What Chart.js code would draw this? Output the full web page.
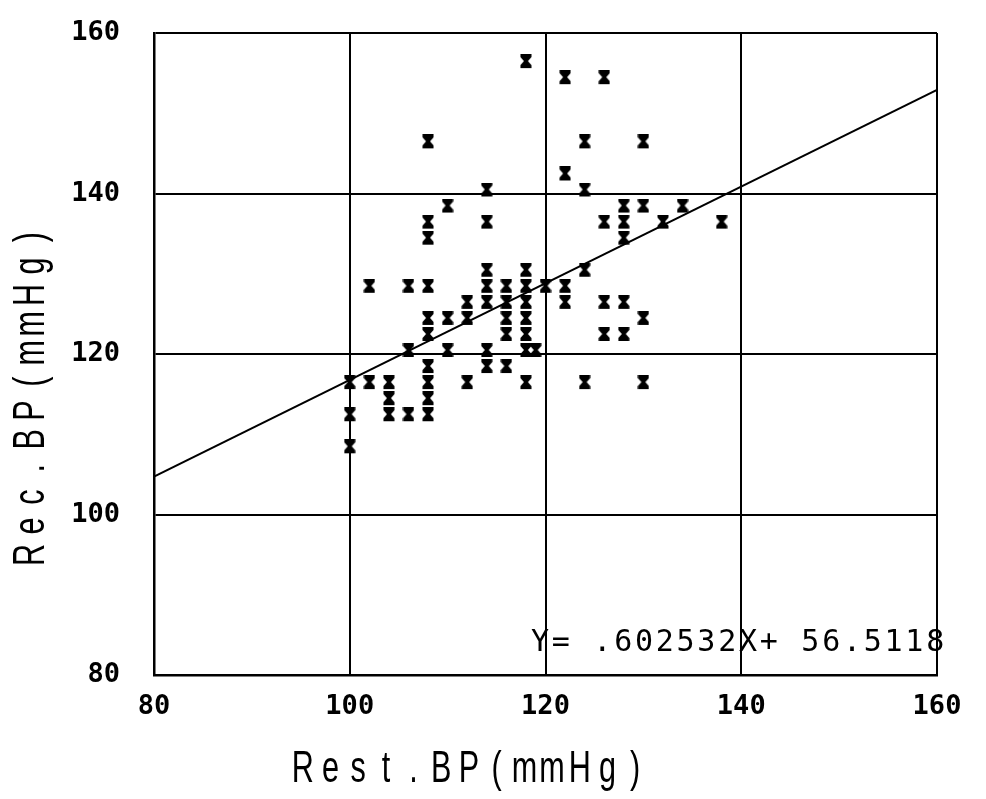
<!DOCTYPE html>
<html lang="en">
<head>
    <meta charset="UTF-8">
    <title>Rest.BP vs Rec.BP</title>
    <script src="https://cdn.jsdelivr.net/npm/chart.js"></script>
    <style>
        body {
            margin: 0;
            padding: 0;
            background: #fff;
        }
        canvas {
            display: block;
        }
    </style>
</head>
<body>
    <canvas id="bpChart" width="986" height="799"></canvas>
    <script>
        // resting BP (x) and recovery BP (y), one entry per subject
        const restBP = [
            100, 100, 100,
            102, 102,
            104, 104, 104,
            106, 106, 106,
            108, 108, 108, 108, 108, 108, 108, 108, 108, 108,
            110, 110, 110,
            112, 112, 112,
            114, 114, 114, 114, 114, 114, 114,
            116, 116, 116, 116, 116,
            118, 118, 118, 118, 118, 118, 118, 118,
            119,
            120,
            122, 122, 122, 122,
            124, 124, 124, 124,
            126, 126, 126, 126,
            128, 128, 128, 128, 128,
            130, 130, 130, 130,
            132,
            134,
            138
        ];
        const recBP = [
            116, 112, 108,
            128, 116,
            116, 114, 112,
            128, 120, 112,
            146, 136, 134, 128, 124, 122, 118, 116, 114, 112,
            138, 124, 120,
            126, 124, 116,
            140, 136, 130, 128, 126, 120, 118,
            128, 126, 124, 122, 118,
            156, 130, 128, 126, 124, 122, 120, 116,
            120,
            128,
            154, 142, 128, 126,
            146, 140, 130, 116,
            154, 136, 126, 122,
            138, 136, 134, 126, 122,
            146, 138, 124, 116,
            136,
            138,
            136
        ];
        const xTicks = [80, 100, 120, 140, 160];
        const yTicks = [80, 100, 120, 140, 160];
        const slope = 0.602532;
        const intercept = 56.5118;
        const xTitle = 'Rest.BP(mmHg)';
        const yTitle = 'Rec.BP(mmHg)';
        const eqText = 'Y= .602532X+ 56.5118';

        const points = restBP.map((x, i) => ({ x: x, y: recBP[i] }));
        const fitLine = [xTicks[0], xTicks[xTicks.length - 1]].map(x => ({ x: x, y: slope * x + intercept }));

        // plotter-style hourglass marker, glyph sits a little above its point
        const marker = document.createElement('canvas');
        marker.width = 12;
        marker.height = 22;
        const m = marker.getContext('2d');
        m.fillStyle = '#000';
        m.beginPath();
        m.moveTo(0.5, 0); m.lineTo(11.5, 0); m.lineTo(11.5, 3); m.lineTo(8, 7);
        m.lineTo(11.5, 11); m.lineTo(11.5, 14); m.lineTo(0.5, 14); m.lineTo(0.5, 11);
        m.lineTo(4, 7); m.lineTo(0.5, 3);
        m.closePath();
        m.fill();

        function spaced(ctx, text, cx, cy, cell, sx) {
            const start = cx - cell * (text.length - 1) / 2;
            for (let i = 0; i < text.length; i++) {
                ctx.save();
                ctx.translate(start + i * cell, cy);
                ctx.scale(sx, 1);
                ctx.fillText(text[i], 0, 0);
                ctx.restore();
            }
        }

        const plotterText = {
            id: 'plotterText',
            afterDraw(chart) {
                const ctx = chart.ctx;
                ctx.save();
                ctx.fillStyle = '#000';
                ctx.textAlign = 'center';
                ctx.textBaseline = 'middle';
                ctx.font = '45px "Liberation Sans"';
                spaced(ctx, xTitle, 469, 770, 27.7, 0.68);
                ctx.save();
                ctx.translate(32, 396);
                ctx.rotate(-Math.PI / 2);
                spaced(ctx, yTitle, 0, 0, 28.9, 0.68);
                ctx.restore();
                ctx.font = '30px "DejaVu Sans Mono"';
                spaced(ctx, eqText, 737.6, 643, 20.8, 1);
                ctx.restore();
            }
        };

        const tickFont = { family: '"DejaVu Sans Mono", monospace', size: 27, weight: 'bold' };

        new Chart(document.getElementById('bpChart'), {
            type: 'scatter',
            data: {
                datasets: [
                    {
                        label: 'Subjects',
                        data: points,
                        pointStyle: marker,
                        pointRadius: 6
                    },
                    {
                        label: 'Fit',
                        type: 'line',
                        data: fitLine,
                        borderColor: '#000',
                        borderWidth: 2,
                        pointRadius: 0,
                        fill: false,
                        tension: 0
                    }
                ]
            },
            options: {
                responsive: false,
                devicePixelRatio: 1,
                animation: false,
                layout: {
                    padding: { left: 0, top: 33, right: 49, bottom: 0 }
                },
                plugins: {
                    legend: { display: false },
                    tooltip: { enabled: false }
                },
                scales: {
                    x: {
                        type: 'linear',
                        min: xTicks[0],
                        max: xTicks[xTicks.length - 1],
                        afterBuildTicks: (scale) => { scale.ticks = xTicks.map(v => ({ value: v })); },
                        afterFit: (scale) => { scale.height = 124; },
                        ticks: {
                            color: '#000',
                            font: tickFont,
                            padding: 16,
                            maxRotation: 0
                        },
                        grid: {
                            color: '#000',
                            lineWidth: 2,
                            drawTicks: false
                        },
                        border: { color: '#000', width: 2.5 }
                    },
                    y: {
                        type: 'linear',
                        min: yTicks[0],
                        max: yTicks[yTicks.length - 1],
                        afterBuildTicks: (scale) => { scale.ticks = yTicks.map(v => ({ value: v })); },
                        afterFit: (scale) => {
                            scale.width = 154;
                            scale.paddingTop = 0;
                            scale.paddingBottom = 0;
                        },
                        ticks: {
                            color: '#000',
                            font: tickFont,
                            padding: 34
                        },
                        grid: {
                            color: '#000',
                            lineWidth: 2,
                            drawTicks: false
                        },
                        border: { color: '#000', width: 2.5 }
                    }
                }
            },
            plugins: [plotterText]
        });
    </script>
</body>
</html>
